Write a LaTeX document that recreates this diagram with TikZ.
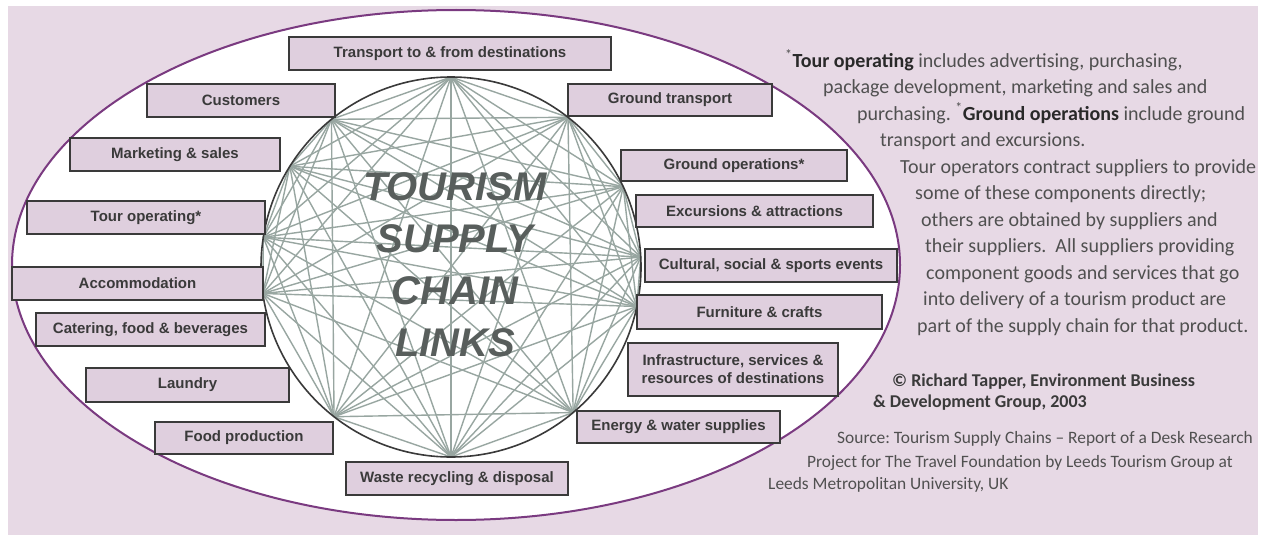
\documentclass[tikz,border=0pt]{standalone}
\usepackage{fontspec}
\setsansfont{Liberation Sans}
\newfontfamily\notefont{Carlito}
\usetikzlibrary{calc}
\frenchspacing
\definecolor{backdrop}{RGB}{231,217,229}
\definecolor{boxfill}{RGB}{223,207,222}
\definecolor{boxline}{RGB}{58,58,58}
\definecolor{rim}{RGB}{122,58,128}
\definecolor{linkgray}{RGB}{152,166,161}
\definecolor{titlegray}{RGB}{88,94,92}
\definecolor{notegray}{RGB}{80,80,80}
\tikzset{
  chainbox/.style={draw=boxline, fill=boxfill, line width=1.8pt, inner sep=0pt, align=center,
    text=boxline, font=\sffamily\bfseries\fontsize{15}{18}\selectfont},
  link/.style={draw=linkgray, line width=1.4pt},
  note/.style={anchor=west, inner sep=0pt, text=notegray, text height=14pt, text depth=4pt,
    font=\notefont\fontsize{20}{24}\selectfont},
  source/.style={note, text height=12pt, text depth=3pt, font=\notefont\fontsize{17.4}{20}\selectfont},
  credit/.style={source, text=boxline, font=\notefont\bfseries\fontsize{18}{21}\selectfont}
}
\begin{document}
\begin{tikzpicture}[x=1pt, y=-1pt]
\useasboundingbox (0,0) rectangle (1264,535);
\fill[backdrop] (8,6) rectangle (1258,535);
\draw[rim, line width=2pt, fill=white] (456,265) ellipse [x radius=444, y radius=255];

% links between the points on the circle
\coordinate (hub) at (451,267);
\foreach \a [count=\k] in {-90,-52,-25,-3,12,50,90,128,172,-171,-148,-129}
  \coordinate (p\k) at ($(hub)+(\a:190)$);
\foreach \i in {1,...,11}{
  \pgfmathtruncatemacro\nxt{\i+1}
  \foreach \j in {\nxt,...,12}
    \draw[link] (p\i) -- (p\j);
}
\draw[boxline, line width=1.6pt] (hub) circle [radius=190];
\node[font=\sffamily\bfseries\itshape\fontsize{40}{52}\selectfont, text=titlegray, align=center]
  (title) at (455,265) {TOURISM\\SUPPLY\\CHAIN\\LINKS};

% boxes round the circle
\node[chainbox, minimum width=322pt, minimum height=33pt] (transport) at (450,53.5) {Transport to \& from destinations};
\node[chainbox, minimum width=188pt, minimum height=33pt] (customers) at (241,100.5) {Customers};
\node[chainbox, minimum width=204pt, minimum height=32pt] (groundtr) at (670,100) {Ground transport};
\node[chainbox, minimum width=210pt, minimum height=33pt] (marketing) at (175,154.5) {Marketing \& sales};
\node[chainbox, minimum width=226pt, minimum height=31pt] (groundops) at (734,165.5) {Ground operations*};
\node[chainbox, minimum width=238pt, minimum height=33pt] (touroper) at (146,217.5) {Tour operating*};
\node[chainbox, minimum width=237pt, minimum height=32pt] (excursions) at (754.5,211) {Excursions \& attractions};
\node[chainbox, minimum width=251pt, minimum height=33pt] (accommod) at (137.5,283.5) {Accommodation};
\node[chainbox, minimum width=252pt, minimum height=33pt] (cultural) at (771,265.5) {Cultural, social \& sports events};
\node[chainbox, minimum width=229pt, minimum height=33pt] (catering) at (150.5,329.5) {Catering, food \& beverages};
\node[chainbox, minimum width=245pt, minimum height=34pt] (furniture) at (759.5,312) {Furniture \& crafts};
\node[chainbox, minimum width=203pt, minimum height=34pt] (laundry) at (187.5,385) {Laundry};
\node[chainbox, minimum width=210pt, minimum height=53pt] (infra) at (733,369.5) {Infrastructure, services \&\\resources of destinations};
\node[chainbox, minimum width=178pt, minimum height=32pt] (foodprod) at (244,438) {Food production};
\node[chainbox, minimum width=203pt, minimum height=32pt] (energy) at (678.5,427) {Energy \& water supplies};
\node[chainbox, minimum width=222pt, minimum height=33pt] (waste) at (457,478.5) {Waste recycling \& disposal};

% notes on the right
\node[note] (n1) at (785,62) {\textsuperscript{*}\textbf{\color{boxline!70!black}Tour operating} includes advertising, purchasing,};
\node[note] (n2) at (823,88.5) {package development, marketing and sales and};
\node[note] (n3) at (857,115) {purchasing. \textsuperscript{*}\textbf{\color{boxline!70!black}Ground operations} include ground};
\node[note] (n4) at (880,141.5) {transport and excursions.};
\node[note] (n5) at (900,168) {Tour operators contract suppliers to provide};
\node[note] (n6) at (915,194.5) {some of these components directly;};
\node[note] (n7) at (921,221) {others are obtained by suppliers and};
\node[note] (n8) at (925,247.5) {their suppliers.\ \ All suppliers providing};
\node[note] (n9) at (926,274) {component goods and services that go};
\node[note] (n10) at (923,300.5) {into delivery of a tourism product are};
\node[note] (n11) at (917,327) {part of the supply chain for that product.};
\node[credit] (c1) at (892,382) {© Richard Tapper, Environment Business};
\node[credit] (c2) at (873,403) {\& Development Group, 2003};
\node[source] (s1) at (837,439) {Source: Tourism Supply Chains – Report of a Desk Research};
\node[source] (s2) at (807,463) {Project for The Travel Foundation by Leeds Tourism Group at};
\node[source] (s3) at (768,485) {Leeds Metropolitan University, UK};
\end{tikzpicture}
\end{document}
